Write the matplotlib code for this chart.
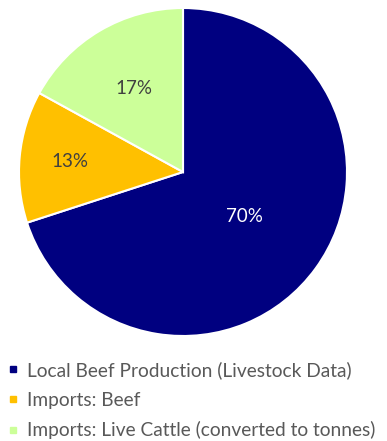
import numpy as np
import matplotlib
matplotlib.use("Agg")
import matplotlib.pyplot as plt
from matplotlib.lines import Line2D

labels = ["Local Beef Production (Livestock Data)", "Imports: Beef",
          "Imports: Live Cattle (converted to tonnes)"]
values = [70, 13, 17]
colors = ["#000080", "#FFC000", "#CCFF99"]
label_colors = ["white", "#404040", "#404040"]
label_dist = [0.46, 0.69, 0.59]

plt.rcParams['font.family'] = ['Lato', 'DejaVu Sans']

fig = plt.figure(figsize=(3.87, 4.41), dpi=100)
W, H = 387, 441
cx, cy, r = 183, 172, 164
ax = fig.add_axes([(cx - r) / W, 1 - (cy + r) / H, 2 * r / W, 2 * r / H])
wedges, texts, autotexts = ax.pie(values, colors=colors, startangle=90, counterclock=False,
                                  autopct='%1.0f%%', radius=1,
                                  wedgeprops=dict(edgecolor='white', linewidth=1.5),
                                  textprops=dict(fontsize=13.5))
for w, t, c, d in zip(wedges, autotexts, label_colors, label_dist):
    ang = np.deg2rad((w.theta1 + w.theta2) / 2)
    t.set_position((d * np.cos(ang), d * np.sin(ang)))
    t.set_color(c)
ax.set_xlim(-1, 1)
ax.set_ylim(-1, 1)
ax.set_aspect('equal')

handles = [Line2D([], [], marker='s', linestyle='none', markersize=5,
                  markerfacecolor=c, markeredgecolor=c) for c in colors]
leg = fig.legend(handles, labels, loc='upper left', bbox_to_anchor=(8 / W, 1 - 361 / H),
                 frameon=False, fontsize=13.8, handlelength=0.55, handletextpad=0.45,
                 labelspacing=0.66, borderaxespad=0, borderpad=0.0)
for t in leg.get_texts():
    t.set_color('#595959')

fig.savefig("out.png", dpi=100, facecolor='white')
